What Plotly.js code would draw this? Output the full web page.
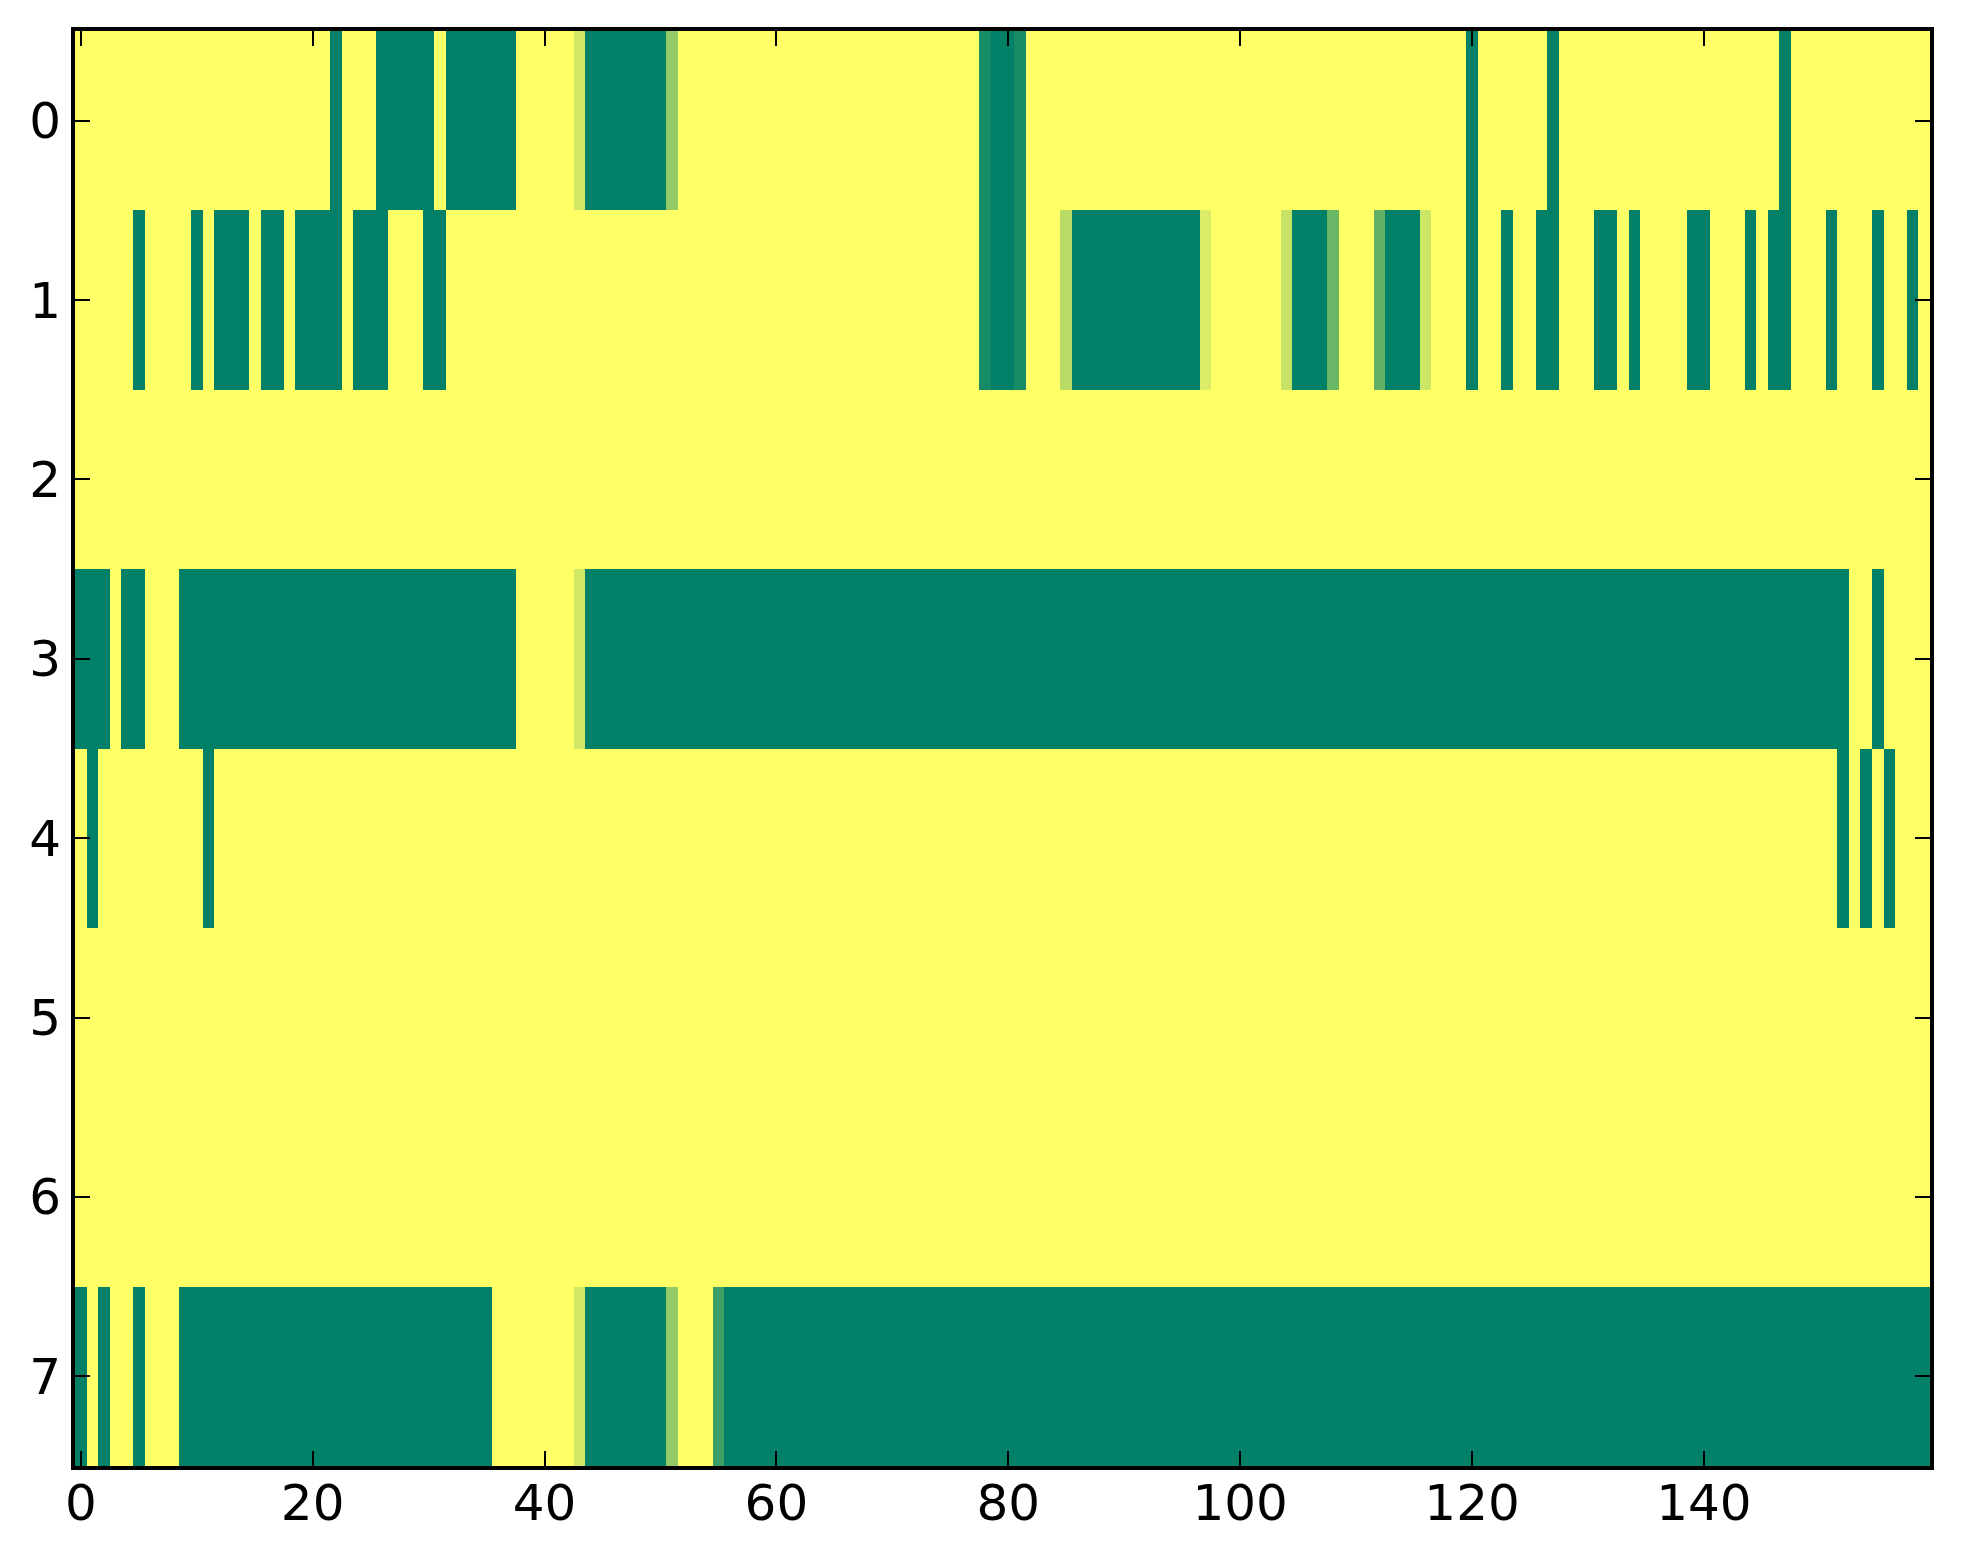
<!DOCTYPE html>
<html>
<head>
<meta charset="utf-8">
<script src="https://cdn.plot.ly/plotly-3.0.1.min.js"></script>
<style>
  html, body { margin: 0; padding: 0; background: #ffffff; }
  #chart { width: 1963px; height: 1564px; }
</style>
</head>
<body>
<div id="chart"></div>
<script>
// Row labels (y categories, top to bottom) and x tick labels
const rowLabels = [0, 1, 2, 3, 4, 5, 6, 7];
const xTickVals = [0, 20, 40, 60, 80, 100, 120, 140];

// Cell values per row, columns 0..159 (0 = green, 1 = yellow)
const row0 = [
  1,1,1,1,1,1,1,1,1,1,
  1,1,1,1,1,1,1,1,1,1,
  1,1,0,1,1,1,0,0,0,0,
  0,1,0,0,0,0,0,0,1,1,
  1,1,1,0.82,0,0,0,0,0,0,
  0,0.58,1,1,1,1,1,1,1,1,
  1,1,1,1,1,1,1,1,1,1,
  1,1,1,1,1,1,1,1,0.09,0,
  0,0.09,1,1,1,1,1,1,1,1,
  1,1,1,1,1,1,1,1,1,1,
  1,1,1,1,1,1,1,1,1,1,
  1,1,1,1,1,1,1,1,1,1,
  0,1,1,1,1,1,1,0,1,1,
  1,1,1,1,1,1,1,1,1,1,
  1,1,1,1,1,1,1,0,1,1,
  1,1,1,1,1,1,1,1,1,1
];
const row1 = [
  1,1,1,1,1,0,1,1,1,1,
  0,1,0,0,0,1,0,0,1,0,
  0,0,0,1,0,0,0,1,1,1,
  0,0,1,1,1,1,1,1,1,1,
  1,1,1,1,1,1,1,1,1,1,
  1,1,1,1,1,1,1,1,1,1,
  1,1,1,1,1,1,1,1,1,1,
  1,1,1,1,1,1,1,1,0.09,0,
  0,0.09,1,1,1,0.72,0,0,0,0,
  0,0,0,0,0,0,0,0.86,1,1,
  1,1,1,1,0.78,0,0,0,0.42,1,
  1,1,0.38,0,0,0,0.8,1,1,1,
  0,1,1,0,1,1,0,0,1,1,
  1,0,0,1,0,1,1,1,1,0,
  0,1,1,1,0,1,0,0,1,1,
  1,0,1,1,1,0,1,1,0,1
];
const row2 = [
  1,1,1,1,1,1,1,1,1,1,
  1,1,1,1,1,1,1,1,1,1,
  1,1,1,1,1,1,1,1,1,1,
  1,1,1,1,1,1,1,1,1,1,
  1,1,1,1,1,1,1,1,1,1,
  1,1,1,1,1,1,1,1,1,1,
  1,1,1,1,1,1,1,1,1,1,
  1,1,1,1,1,1,1,1,1,1,
  1,1,1,1,1,1,1,1,1,1,
  1,1,1,1,1,1,1,1,1,1,
  1,1,1,1,1,1,1,1,1,1,
  1,1,1,1,1,1,1,1,1,1,
  1,1,1,1,1,1,1,1,1,1,
  1,1,1,1,1,1,1,1,1,1,
  1,1,1,1,1,1,1,1,1,1,
  1,1,1,1,1,1,1,1,1,1
];
const row3 = [
  0,0,0,1,0,0,1,1,1,0,
  0,0,0,0,0,0,0,0,0,0,
  0,0,0,0,0,0,0,0,0,0,
  0,0,0,0,0,0,0,0,1,1,
  1,1,1,0.82,0,0,0,0,0,0,
  0,0,0,0,0,0,0,0,0,0,
  0,0,0,0,0,0,0,0,0,0,
  0,0,0,0,0,0,0,0,0,0,
  0,0,0,0,0,0,0,0,0,0,
  0,0,0,0,0,0,0,0,0,0,
  0,0,0,0,0,0,0,0,0,0,
  0,0,0,0,0,0,0,0,0,0,
  0,0,0,0,0,0,0,0,0,0,
  0,0,0,0,0,0,0,0,0,0,
  0,0,0,0,0,0,0,0,0,0,
  0,0,0,1,1,0,1,1,1,1
];
const row4 = [
  1,0,1,1,1,1,1,1,1,1,
  1,0,1,1,1,1,1,1,1,1,
  1,1,1,1,1,1,1,1,1,1,
  1,1,1,1,1,1,1,1,1,1,
  1,1,1,1,1,1,1,1,1,1,
  1,1,1,1,1,1,1,1,1,1,
  1,1,1,1,1,1,1,1,1,1,
  1,1,1,1,1,1,1,1,1,1,
  1,1,1,1,1,1,1,1,1,1,
  1,1,1,1,1,1,1,1,1,1,
  1,1,1,1,1,1,1,1,1,1,
  1,1,1,1,1,1,1,1,1,1,
  1,1,1,1,1,1,1,1,1,1,
  1,1,1,1,1,1,1,1,1,1,
  1,1,1,1,1,1,1,1,1,1,
  1,1,0,1,0,1,0,1,1,1
];
const row5 = [
  1,1,1,1,1,1,1,1,1,1,
  1,1,1,1,1,1,1,1,1,1,
  1,1,1,1,1,1,1,1,1,1,
  1,1,1,1,1,1,1,1,1,1,
  1,1,1,1,1,1,1,1,1,1,
  1,1,1,1,1,1,1,1,1,1,
  1,1,1,1,1,1,1,1,1,1,
  1,1,1,1,1,1,1,1,1,1,
  1,1,1,1,1,1,1,1,1,1,
  1,1,1,1,1,1,1,1,1,1,
  1,1,1,1,1,1,1,1,1,1,
  1,1,1,1,1,1,1,1,1,1,
  1,1,1,1,1,1,1,1,1,1,
  1,1,1,1,1,1,1,1,1,1,
  1,1,1,1,1,1,1,1,1,1,
  1,1,1,1,1,1,1,1,1,1
];
const row6 = [
  1,1,1,1,1,1,1,1,1,1,
  1,1,1,1,1,1,1,1,1,1,
  1,1,1,1,1,1,1,1,1,1,
  1,1,1,1,1,1,1,1,1,1,
  1,1,1,1,1,1,1,1,1,1,
  1,1,1,1,1,1,1,1,1,1,
  1,1,1,1,1,1,1,1,1,1,
  1,1,1,1,1,1,1,1,1,1,
  1,1,1,1,1,1,1,1,1,1,
  1,1,1,1,1,1,1,1,1,1,
  1,1,1,1,1,1,1,1,1,1,
  1,1,1,1,1,1,1,1,1,1,
  1,1,1,1,1,1,1,1,1,1,
  1,1,1,1,1,1,1,1,1,1,
  1,1,1,1,1,1,1,1,1,1,
  1,1,1,1,1,1,1,1,1,1
];
const row7 = [
  0,1,0,1,1,0,1,1,1,0,
  0,0,0,0,0,0,0,0,0,0,
  0,0,0,0,0,0,0,0,0,0,
  0,0,0,0,0,0,1,1,1,1,
  1,1,1,0.82,0,0,0,0,0,0,
  0,0.58,1,1,1,0.24,0,0,0,0,
  0,0,0,0,0,0,0,0,0,0,
  0,0,0,0,0,0,0,0,0,0,
  0,0,0,0,0,0,0,0,0,0,
  0,0,0,0,0,0,0,0,0,0,
  0,0,0,0,0,0,0,0,0,0,
  0,0,0,0,0,0,0,0,0,0,
  0,0,0,0,0,0,0,0,0,0,
  0,0,0,0,0,0,0,0,0,0,
  0,0,0,0,0,0,0,0,0,0,
  0,0,0,0,0,0,0,0,0,0
];

const zRows = [row0, row1, row2, row3, row4, row5, row6, row7];
const nCols = row0.length;
const colIndex = Array.from({length: nCols}, (_, i) => i);

// matplotlib "summer" colormap endpoints
const summer = [[0, 'rgb(0,128,102)'], [1, 'rgb(255,255,102)']];

const trace = {
  type: 'heatmap',
  z: zRows,
  x: colIndex,
  y: rowLabels,
  zmin: 0,
  zmax: 1,
  colorscale: summer,
  showscale: false,
  zsmooth: false,
  hoverinfo: 'x+y+z'
};

const axisFont = {family: 'DejaVu Sans, sans-serif', size: 50, color: '#000000'};

const layout = {
  width: 1963,
  height: 1564,
  margin: {l: 75, r: 33, t: 31, b: 98, pad: 0},
  paper_bgcolor: '#ffffff',
  plot_bgcolor: '#ffffff',
  font: axisFont,
  xaxis: {
    range: [-0.5, nCols - 0.5],
    tickmode: 'array',
    tickvals: xTickVals,
    ticktext: xTickVals.map(String),
    ticks: 'inside',
    ticklen: 15,
    tickwidth: 2,
    tickcolor: '#000000',
    showline: true,
    linewidth: 4,
    linecolor: '#000000',
    mirror: 'ticks',
    showgrid: false,
    zeroline: false,
    tickfont: axisFont,
    ticklabelstandoff: -10
  },
  yaxis: {
    range: [rowLabels.length - 0.5, -0.5],
    tickmode: 'array',
    tickvals: rowLabels,
    ticktext: rowLabels.map(String),
    ticks: 'inside',
    ticklen: 15,
    tickwidth: 2,
    tickcolor: '#000000',
    showline: true,
    linewidth: 4,
    linecolor: '#000000',
    mirror: 'ticks',
    showgrid: false,
    zeroline: false,
    tickfont: axisFont,
    ticklabelstandoff: 0
  },
  showlegend: false
};

Plotly.newPlot('chart', [trace], layout, {staticPlot: true, displayModeBar: false});
</script>
</body>
</html>
